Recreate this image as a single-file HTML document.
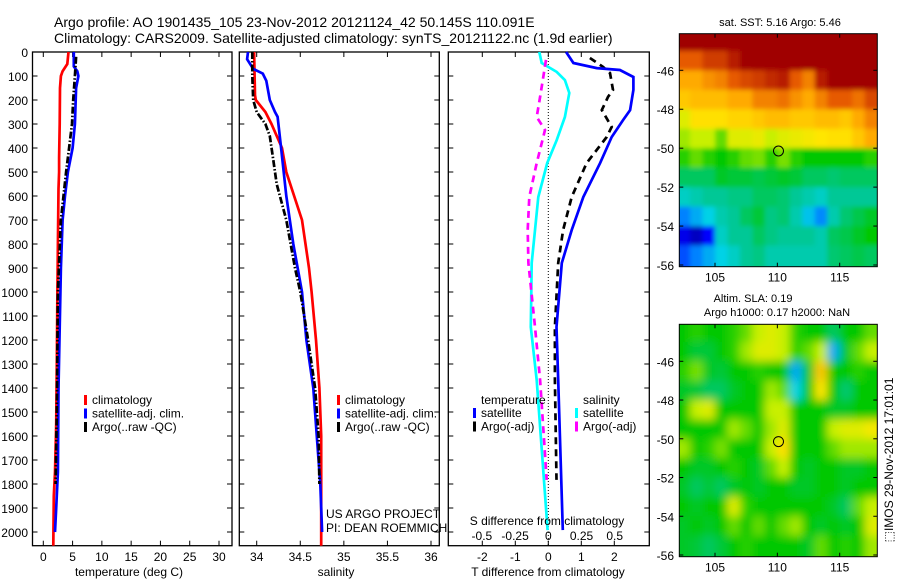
<!DOCTYPE html>
<html><head><meta charset="utf-8"><style>
html,body{margin:0;padding:0;background:#fff}
svg{display:block;font-family:"Liberation Sans",sans-serif}
text{fill:#000}
</style></head><body>
<svg id="fig" width="900" height="580" viewBox="0 0 900 580" xmlns="http://www.w3.org/2000/svg">
<defs>
<filter id="blur1" x="-5%" y="-5%" width="110%" height="110%"><feGaussianBlur stdDeviation="2.5"/></filter>
<filter id="blur2" x="-5%" y="-5%" width="110%" height="110%"><feGaussianBlur stdDeviation="4.5"/></filter>
</defs>
<text x="54" y="27" font-size="14">Argo profile: AO 1901435_105 23-Nov-2012 20121124_42 50.145S 110.091E</text>
<text x="54" y="43" font-size="14">Climatology: CARS2009. Satellite-adjusted climatology: synTS_20121122.nc (1.9d earlier)</text>
<g id="g"></g>
</svg>
<script>
// ---- temperature profiles [depth, value]
const tempClimDepth=[0,50,80,100,150,300,440,500,570,800,1000,1300,1550,1750,1850,2057];
const tempClim=[4.3,4.1,3.3,3.0,2.85,2.8,2.7,2.7,2.6,2.5,2.4,2.3,2.2,2.0,1.8,1.7];
const tempSatDepth=[0,60,80,100,150,300,400,500,600,700,900,1150,1400,1750,1900,2000];
const tempSat=[5.2,5.2,5.8,6.0,5.6,5.4,5.0,4.2,3.7,3.3,3.0,2.8,2.6,2.5,2.2,2.0];
const tempArgoDepth=[20,100,200,300,400,500,700,1000,1500,1800];
const tempArgo=[5.6,5.4,5.1,4.9,4.4,3.9,3.0,2.5,2.3,2.1];
// ---- salinity profiles
const salClimDepth=[0,180,200,250,300,400,500,700,900,1000,1200,1400,1600,2057];
const salClim=[33.97,33.98,33.99,34.1,34.17,34.29,34.34,34.52,34.6,34.63,34.68,34.72,34.74,34.74];
const salSatDepth=[0,30,70,90,120,200,250,270,400,500,600,800,1000,1200,1400,1600,1800,2000];
const salSat=[33.9,33.89,33.96,34.07,34.11,34.15,34.21,34.24,34.28,34.31,34.34,34.42,34.52,34.57,34.65,34.69,34.73,34.75];
const salArgoDepth=[0,100,200,250,300,350,450,550,700,900,1000,1200,1400,1600,1800];
const salArgo=[33.95,33.95,33.96,34.0,34.1,34.15,34.19,34.23,34.34,34.44,34.5,34.59,34.67,34.71,34.72];
// ---- differences from climatology
const dTSatDepth=[0,46,67,75,104,158,242,283,354,463,604,742,879,1146,1367,1992];
const dTSat=[0.54,0.76,1.47,2.17,2.58,2.58,2.48,2.27,1.92,1.57,1.06,0.71,0.41,0.25,0.3,0.44];
const dTArgoDepth=[25,62,88,158,187,242,312,354,463,604,742,879,1146,1367,1783];
const dTArgo=[1.26,1.66,1.87,1.96,1.81,1.62,1.92,1.77,1.16,0.71,0.45,0.3,0.2,0.2,0.25];
const dSSatDepth=[0,46,83,117,171,271,367,463,604,742,879,1146,1367,1992];
const dSSat=[-0.068,-0.05,0.063,0.125,0.158,0.125,0.063,-0.008,-0.075,-0.1,-0.125,-0.132,-0.087,-0.005];
const dSArgoDepth=[33,187,271,325,463,604,742,879,1146,1367,1783];
const dSArgo=[-0.017,-0.062,-0.087,-0.025,-0.087,-0.143,-0.155,-0.15,-0.1,-0.062,-0.012];
// ---- tick labels
const depthTicks=[0,100,200,300,400,500,600,700,800,900,1000,1100,1200,1300,1400,1500,1600,1700,1800,1900,2000];
const tempTicks=[0,5,10,15,20,25,30];
const salTicks=[34,34.5,35,35.5,36];
const salTickLabels=["34","34.5","35","35.5","36"];
const tdTicks=[-2,-1,0,1,2];
const sdTicks=[-0.5,-0.25,0,0.25,0.5];
const sdTickLabels=["-0.5","-0.25","0","0.25","0.5"];
const latTicks=[-46,-48,-50,-52,-54,-56];
const lonTicks=[105,110,115];
// ---- map grids (colormap index 0..1), rows from -44 southward by 1 deg, cols from 102E by 1 deg
const sstGrid=[
[1,1,1,1,1,1,1,1,1,1,1,1,1,1,1,1],
[0.85,0.85,0.9,0.9,0.95,1,1,1,1,1,1,1,1,1,1,1],
[0.75,0.75,0.78,0.8,0.85,0.88,0.9,0.93,0.95,0.85,0.8,0.95,1,1,1,1],
[0.7,0.72,0.72,0.72,0.75,0.75,0.8,0.8,0.82,0.78,0.75,0.8,0.85,0.85,0.82,0.88],
[0.62,0.66,0.66,0.66,0.68,0.68,0.7,0.72,0.72,0.7,0.7,0.72,0.72,0.7,0.75,0.8],
[0.58,0.6,0.6,0.55,0.62,0.62,0.63,0.6,0.62,0.63,0.64,0.65,0.66,0.66,0.7,0.75],
[0.52,0.55,0.52,0.5,0.52,0.55,0.56,0.52,0.56,0.52,0.5,0.5,0.5,0.5,0.5,0.52],
[0.45,0.45,0.45,0.48,0.47,0.47,0.46,0.47,0.48,0.47,0.45,0.45,0.44,0.45,0.45,0.45],
[0.38,0.4,0.42,0.42,0.43,0.43,0.45,0.45,0.44,0.42,0.4,0.38,0.42,0.42,0.42,0.42],
[0.25,0.3,0.35,0.4,0.42,0.45,0.47,0.43,0.44,0.4,0.33,0.26,0.4,0.44,0.46,0.48],
[0.1,0.06,0.12,0.38,0.42,0.42,0.45,0.43,0.42,0.42,0.42,0.4,0.45,0.46,0.48,0.5],
[0.2,0.25,0.3,0.35,0.38,0.42,0.43,0.4,0.4,0.4,0.4,0.4,0.44,0.45,0.46,0.45]];
const slaGrid=[
[0.5,0.52,0.5,0.5,0.52,0.55,0.6,0.62,0.6,0.52,0.5,0.5,0.45,0.5,0.5,0.55],
[0.5,0.47,0.47,0.5,0.52,0.58,0.62,0.62,0.6,0.52,0.55,0.6,0.3,0.48,0.55,0.6],
[0.52,0.56,0.48,0.47,0.5,0.5,0.52,0.5,0.5,0.3,0.48,0.7,0.5,0.5,0.52,0.5],
[0.48,0.47,0.45,0.45,0.48,0.5,0.5,0.58,0.55,0.35,0.5,0.65,0.5,0.44,0.5,0.5],
[0.5,0.6,0.62,0.5,0.5,0.5,0.5,0.6,0.6,0.5,0.5,0.5,0.48,0.48,0.5,0.5],
[0.5,0.5,0.5,0.5,0.58,0.55,0.5,0.58,0.62,0.5,0.5,0.5,0.6,0.62,0.62,0.64],
[0.58,0.5,0.52,0.56,0.5,0.5,0.5,0.6,0.66,0.5,0.5,0.5,0.55,0.58,0.58,0.58],
[0.5,0.48,0.48,0.5,0.52,0.5,0.48,0.55,0.6,0.5,0.48,0.5,0.5,0.48,0.48,0.5],
[0.48,0.45,0.47,0.45,0.48,0.5,0.48,0.5,0.5,0.48,0.48,0.5,0.5,0.48,0.5,0.5],
[0.5,0.48,0.5,0.5,0.62,0.52,0.5,0.5,0.5,0.5,0.5,0.5,0.48,0.45,0.55,0.6],
[0.48,0.5,0.48,0.5,0.55,0.5,0.55,0.5,0.55,0.58,0.5,0.48,0.5,0.48,0.5,0.62],
[0.48,0.47,0.45,0.47,0.5,0.52,0.5,0.5,0.5,0.5,0.48,0.55,0.5,0.52,0.5,0.58]];
const floatLon=110.091, floatLat=-50.145;

const NS="http://www.w3.org/2000/svg";
const G=document.getElementById('g');
function el(tag,attrs,parent){const e=document.createElementNS(NS,tag);for(const k in attrs)e.setAttribute(k,attrs[k]);(parent||G).appendChild(e);return e;}
function txt(s,x,y,anchor,size,name,parent){const t=el('text',{x:x,y:y,'text-anchor':anchor,'font-size':size},parent);t.textContent=s;


return t;}

const Y0=52, Y1=545.7, dScale=0.24;
const yD=d=>Y0+d*dScale;
function lin(v0,v1,p0,p1){return v=>p0+(v-v0)*(p1-p0)/(v1-v0);}

function panel(name){
  const g=el('g',{});
  
  
  return g;
}
function frame(g,x0,x1){
  const r=el('rect',{x:x0,y:Y0,width:x1-x0,height:Y1-Y0,fill:'none',stroke:'#000','stroke-width':1.3},g);
  
  
  depthTicks.forEach(d=>{const y=yD(d);
    el('line',{x1:x0,x2:x0+5,y1:y,y2:y,stroke:'#000'},g);
    el('line',{x1:x1-5,x2:x1,y1:y,y2:y,stroke:'#000'},g);});
}
function line(g,xs,ds,fx,color,dash,name,w){
  const pts=xs.map((v,i)=>fx(v).toFixed(1)+','+yD(ds[i]).toFixed(1)).join(' ');
  const p=el('polyline',{points:pts,fill:'none',stroke:color,'stroke-width':w||2.7,'stroke-dasharray':dash||'none'},g);
  
  
}
function legend(g,x,y,items){
  items.forEach((it,i)=>{
    const yy=y+i*13.5;
    el('rect',{x:x,y:yy-9,width:3,height:10,fill:it[1]},g);
    txt(it[0],x+8,yy,'start',12,'legend-entry',g);
  });
}

// Panel 1: temperature
const p1=panel('temperature-panel');
const fT=lin(0,30,43.3,219);
frame(p1,32.5,232);
depthTicks.forEach(d=>txt(String(d),28,yD(d)+5,'end',12,'depth-tick-label',p1));
tempTicks.forEach(t=>{const x=fT(t);
  el('line',{x1:x,x2:x,y1:Y0,y2:Y0+5,stroke:'#000'},p1);
  el('line',{x1:x,x2:x,y1:Y1-5,y2:Y1,stroke:'#000'},p1);
  txt(String(t),x,561,'middle',12,'temperature-tick-label',p1);});
line(p1,tempClim,tempClimDepth,fT,'#f00',null,'temperature-climatology-line');
line(p1,tempSat,tempSatDepth,fT,'#00f',null,'temperature-satellite-line');
line(p1,tempArgo,tempArgoDepth,fT,'#000','7,2,1.5,2','temperature-argo-line');
legend(p1,84,404,[['climatology','#f00'],['satellite-adj. clim.','#00f'],['Argo(..raw -QC)','#000']]);
txt('temperature (deg C)',129,576,'middle',12,'temperature-axis-title',p1);

// Panel 2: salinity
const p2=panel('salinity-panel');
const fS=lin(34,36,256.7,431);
frame(p2,239.3,439.3);
salTicks.forEach((s,i)=>{const x=fS(s);
  el('line',{x1:x,x2:x,y1:Y0,y2:Y0+5,stroke:'#000'},p2);
  el('line',{x1:x,x2:x,y1:Y1-5,y2:Y1,stroke:'#000'},p2);
  txt(salTickLabels[i],x,561,'middle',12,'salinity-tick-label',p2);});
line(p2,salClim,salClimDepth,fS,'#f00',null,'salinity-climatology-line');
line(p2,salSat,salSatDepth,fS,'#00f',null,'salinity-satellite-line');
line(p2,salArgo,salArgoDepth,fS,'#000','7,2,1.5,2','salinity-argo-line');
legend(p2,337,404,[['climatology','#f00'],['satellite-adj. clim.','#00f'],['Argo(..raw -QC)','#000']]);
txt('US ARGO PROJECT',326,518,'start',12,'credit-project',p2);
txt('PI: DEAN ROEMMICH',326,532,'start',12,'credit-pi',p2);
txt('salinity',336,576,'middle',12,'salinity-axis-title',p2);

// Panel 3: differences
const p3=panel('difference-panel');
const fdT=lin(0,2,548.3,614.3);
const fdS=lin(0,0.5,548.3,614.7);
frame(p3,448.3,649.3);
el('line',{x1:fdT(0),x2:fdT(0),y1:Y0,y2:Y1,stroke:'#000','stroke-dasharray':'1,2'},p3);
tdTicks.forEach(t=>{const x=fdT(t);
  el('line',{x1:x,x2:x,y1:Y0,y2:Y0+5,stroke:'#000'},p3);
  el('line',{x1:x,x2:x,y1:Y1-5,y2:Y1,stroke:'#000'},p3);
  txt(String(t),x,561,'middle',12,'t-diff-tick-label',p3);});
line(p3,dSSat,dSSatDepth,fdS,'#0ff',null,'salinity-diff-satellite-line');
line(p3,dSArgo,dSArgoDepth,fdS,'#f0f','7,5','salinity-diff-argo-line');
line(p3,dTArgo,dTArgoDepth,fdT,'#000','7,5','temperature-diff-argo-line');
line(p3,dTSat,dTSatDepth,fdT,'#00f',null,'temperature-diff-satellite-line');
txt('temperature',481,404,'start',12,'legend-title-temperature',p3);
legend(p3,473,417,[['satellite','#00f'],['Argo(-adj)','#000']]);
txt('salinity',583,404,'start',12,'legend-title-salinity',p3);
legend(p3,575,417,[['satellite','#0ff'],['Argo(-adj)','#f0f']]);
txt('S difference from climatology',547,525,'middle',12,'s-diff-axis-title',p3);
sdTicks.forEach((s,i)=>txt(sdTickLabels[i],fdS(s),540,'middle',12,'s-diff-tick-label',p3));
txt('T difference from climatology',548,576,'middle',12,'t-diff-axis-title',p3);

// Maps
const stops=[[0,[0,0,130]],[0.12,[0,0,255]],[0.25,[0,130,255]],[0.35,[0,210,230]],[0.42,[0,200,150]],[0.5,[0,200,0]],[0.6,[200,240,0]],[0.65,[255,230,0]],[0.75,[255,170,0]],[0.85,[230,90,0]],[1,[160,0,0]]];
function cmap(v){v=Math.max(0,Math.min(1,v));for(let i=1;i<stops.length;i++){if(v<=stops[i][0]){const a=stops[i-1],b=stops[i],t=(v-a[0])/(b[0]-a[0]);const c=a[1].map((x,k)=>Math.round(x+(b[1][k]-x)*t));return 'rgb('+c.join(',')+')';}}return 'rgb(160,0,0)';}
function map(name,grid,top,bottom,lat46y,lat56y,id,blur){
  const g=panel(name);
  const x0=679.3,x1=877.3;
  const fx=lin(105,115,715,839.7), fy=lin(-46,-56,lat46y,lat56y);
  const cp=el('clipPath',{id:id},g); el('rect',{x:x0,y:top,width:x1-x0,height:bottom-top},cp);
  const cg=el('g',{'clip-path':'url(#'+id+')'},g);
  const bg=el('g',{filter:'url(#'+blur+')'},cg);
  const nr=grid.length, nc=grid[0].length;
  grid.forEach((row,r)=>row.forEach((v,c)=>{
    let xa=fx(102+c),xb=fx(103+c);
    let ya=fy(-44-r), yb=fy(-45-r);
    if(c===0)xa-=12; if(c===nc-1)xb+=12;
    if(r===0)ya-=12; if(r===nr-1)yb=bottom+12;
    const cell=el('rect',{x:xa.toFixed(2),y:ya.toFixed(2),width:(xb-xa+0.6).toFixed(2),height:(yb-ya+0.6).toFixed(2),fill:cmap(v)},bg);
    
    
  }));
  el('rect',{x:x0,y:top,width:x1-x0,height:bottom-top,fill:'none',stroke:'#000','stroke-width':1},g);
  latTicks.forEach(l=>{const y=fy(l);
    el('line',{x1:x0,x2:x0+4,y1:y,y2:y,stroke:'#000'},g);
    el('line',{x1:x1-4,x2:x1,y1:y,y2:y,stroke:'#000'},g);
    txt(String(l),674,y+5,'end',12,'latitude-tick-label',g);});
  lonTicks.forEach(l=>{const x=fx(l);
    el('line',{x1:x,x2:x,y1:top,y2:top+4,stroke:'#000'},g);
    el('line',{x1:x,x2:x,y1:bottom-4,y2:bottom,stroke:'#000'},g);
    txt(String(l),x,bottom+15,'middle',12,'longitude-tick-label',g);});
  const c=el('circle',{cx:fx(floatLon),cy:fy(floatLat),r:5,fill:'none',stroke:'#000','stroke-width':1},g);
  
  
  return g;
}
const m1=map('sst-map',sstGrid,33.7,266.7,70.3,265,'c1','blur1');
txt('sat. SST: 5.16 Argo: 5.46',780,26,'middle',11,'sst-map-title',m1);
const m2=map('sla-map',slaGrid,324.3,556.7,361.3,555,'c2','blur2');
txt('Altim. SLA: 0.19',753,302,'middle',11,'sla-map-title',m2);
txt('Argo h1000: 0.17 h2000: NaN',777,316,'middle',11,'sla-map-subtitle',m2);
const ts=txt('\u2B1AIMOS 29-Nov-2012 17:01:01',0,0,'middle',12,'timestamp-label',m2);
ts.setAttribute('transform','translate(893,460) rotate(-90)');
</script>
</body></html>
